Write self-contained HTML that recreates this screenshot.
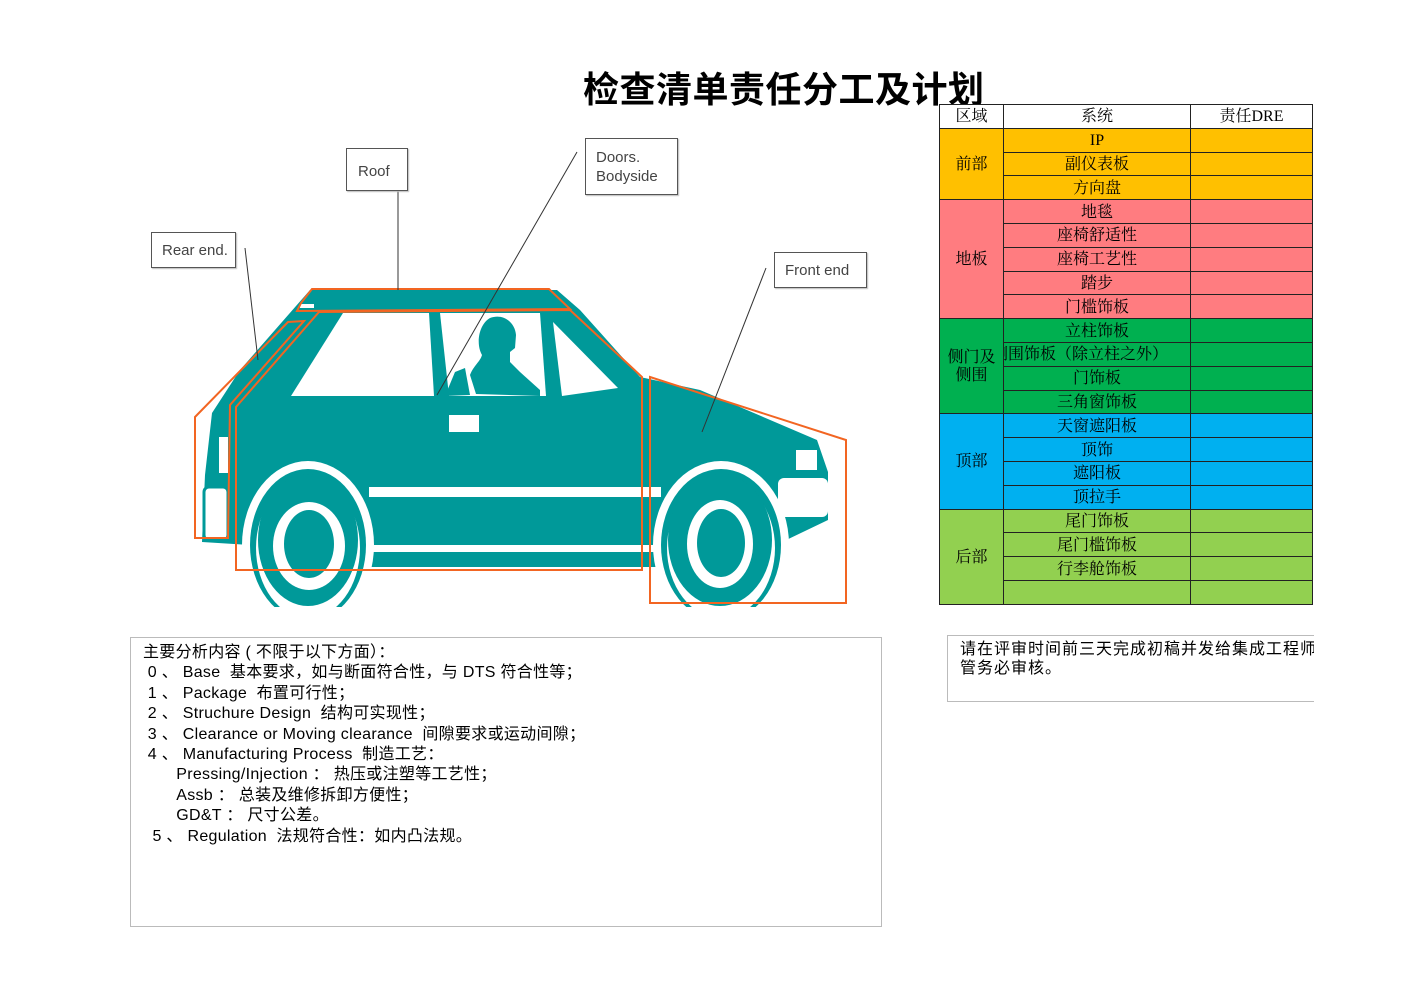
<!DOCTYPE html>
<html><head><meta charset="utf-8"><style>
body{margin:0;width:1403px;height:992px;background:#fff;position:relative;overflow:hidden;font-family:"Liberation Sans","Noto Sans CJK SC",sans-serif}
.a{position:absolute}
.title{left:583px;top:61px;font-size:36px;font-weight:bold;font-family:"Liberation Sans","Noto Sans CJK SC",sans-serif;color:#000;letter-spacing:0.5px;white-space:nowrap}
.tb{position:absolute;left:939px;top:104px;border-collapse:collapse;font-family:"Liberation Serif","Noto Serif CJK SC",serif;font-size:16px}
.tb td{border:1px solid #222;padding:2px 0 0 0;height:20.8px;text-align:center;white-space:nowrap;overflow:hidden;line-height:20px;box-sizing:content-box}
.o{background:#FFC000}.p{background:#FF7C80}.g{background:#00B050}.b{background:#00B0F0}.l{background:#92D050}
.box{border:1px solid #555;background:#fff;font-size:15px;color:#444;box-shadow:1px 1px 1px #bbb;line-height:19px}
.txt{font-size:16px;line-height:20.4px;color:#000;white-space:pre;letter-spacing:0.3px}
</style></head><body>
<div class="a title">检查清单责任分工及计划</div>

<table class="tb">
<colgroup><col style="width:64px"><col style="width:187px"><col style="width:122px"></colgroup>
<tr><td style="background:#fff">区域</td><td style="background:#fff">系统</td><td style="background:#fff">责任DRE</td></tr>
<tr><td class="o" rowspan="3">前部</td><td class="o">IP</td><td class="o"></td></tr>
<tr><td class="o">副仪表板</td><td class="o"></td></tr>
<tr><td class="o">方向盘</td><td class="o"></td></tr>
<tr><td class="p" rowspan="5">地板</td><td class="p">地毯</td><td class="p"></td></tr>
<tr><td class="p">座椅舒适性</td><td class="p"></td></tr>
<tr><td class="p">座椅工艺性</td><td class="p"></td></tr>
<tr><td class="p">踏步</td><td class="p"></td></tr>
<tr><td class="p">门槛饰板</td><td class="p"></td></tr>
<tr><td class="g" rowspan="4" style="line-height:18px">侧门及<br>侧围</td><td class="g">立柱饰板</td><td class="g"></td></tr>
<tr><td class="g" style="max-width:187px;text-align:left;text-indent:-12px">侧围饰板（除立柱之外）</td><td class="g"></td></tr>
<tr><td class="g">门饰板</td><td class="g"></td></tr>
<tr><td class="g">三角窗饰板</td><td class="g"></td></tr>
<tr><td class="b" rowspan="4">顶部</td><td class="b">天窗遮阳板</td><td class="b"></td></tr>
<tr><td class="b">顶饰</td><td class="b"></td></tr>
<tr><td class="b">遮阳板</td><td class="b"></td></tr>
<tr><td class="b">顶拉手</td><td class="b"></td></tr>
<tr><td class="l" rowspan="4">后部</td><td class="l">尾门饰板</td><td class="l"></td></tr>
<tr><td class="l">尾门槛饰板</td><td class="l"></td></tr>
<tr><td class="l">行李舱饰板</td><td class="l"></td></tr>
<tr><td class="l"></td><td class="l"></td></tr>
</table>

<svg class="a" style="left:0;top:0" width="930" height="630" viewBox="0 0 930 630">
<g fill="#009999">
<polygon points="202,542 205,475 212,413 240,370 310,290 557,290 580,310 640,377 700,390 817,440 828,472 828,520 780,543 660,567 370,567 250,545"/>
</g>
<ellipse cx="308" cy="545" rx="66" ry="84" fill="#fff"/>
<ellipse cx="308" cy="545" rx="58" ry="76" fill="#009999"/>
<ellipse cx="308" cy="548" rx="52" ry="70" fill="#fff"/>
<ellipse cx="721" cy="545" rx="68" ry="84" fill="#fff"/>
<ellipse cx="721" cy="545" rx="60" ry="76" fill="#009999"/>
<ellipse cx="721" cy="548" rx="54" ry="70" fill="#fff"/>
<rect x="230" y="607" width="600" height="30" fill="#fff"/>
<ellipse cx="308" cy="540" rx="50" ry="66" fill="#009999"/>
<ellipse cx="309" cy="546" rx="36" ry="44" fill="#fff"/>
<ellipse cx="309" cy="544" rx="25" ry="34" fill="#009999"/>
<ellipse cx="720" cy="540" rx="52" ry="66" fill="#009999"/>
<ellipse cx="720" cy="544" rx="33" ry="44" fill="#fff"/>
<ellipse cx="721" cy="543" rx="24" ry="34" fill="#009999"/>
<rect x="369" y="487" width="292" height="10" fill="#fff"/>
<rect x="369" y="545" width="292" height="7" fill="#fff"/>
<polygon points="291,396 343,313 429,313 434,396" fill="#fff"/>
<polygon points="440,313 540,313 546,396 449,396" fill="#fff"/>
<polygon points="553,322 618,388 562,396" fill="#fff"/>
<path d="M476,394 L470,375 C474,365 480,362 482,355 C476,345 478,325 490,318 C503,313 515,322 516,335 L515,348 L510,352 L510,362 L520,372 L540,390 L540,396 Z" fill="#009999"/>
<polygon points="455,372 465,368 470,395 445,396" fill="#009999"/>
<rect x="449" y="415" width="30" height="17" fill="#fff"/>
<rect x="796" y="450" width="21" height="20" fill="#fff"/>
<rect x="778" y="478" width="50" height="39" fill="#fff" rx="6"/>
<rect x="219" y="437" width="9" height="36" fill="#fff"/>
<rect x="204" y="487" width="24" height="53" fill="#fff" stroke="#009999" stroke-width="3" rx="5"/>
<rect x="300" y="304" width="14" height="4" fill="#fff"/>
<g fill="none" stroke="#F26522" stroke-width="2">
<polygon points="312,289 549,289 570,309 297,311 301,303"/>
<polygon points="195,417 288,322 304,321 230,405 228,538 195,538"/>
<polygon points="236,570 236,407 319,312 570,310 642,377 642,570"/>
<polygon points="650,377 846,440 846,603 650,603"/>
</g>
<g stroke="#333" stroke-width="1">
<line x1="398" y1="190" x2="398" y2="290"/>
<line x1="577" y1="152" x2="437" y2="395"/>
<line x1="245" y1="248" x2="258" y2="360"/>
<line x1="766" y1="268" x2="702" y2="432"/>
</g>
</svg>

<div class="a box" style="left:346px;top:148px;width:60px;height:41px;"><div style="padding:13px 0 0 11px">Roof</div></div>
<div class="a box" style="left:585px;top:138px;width:91px;height:55px;"><div style="padding:9px 0 0 10px">Doors.<br>Bodyside</div></div>
<div class="a box" style="left:151px;top:232px;width:83px;height:34px;"><div style="padding:8px 0 0 10px">Rear end.</div></div>
<div class="a box" style="left:774px;top:252px;width:91px;height:34px;"><div style="padding:8px 0 0 10px">Front end</div></div>

<div class="a" style="left:130px;top:637px;width:750px;height:288px;border:1px solid #bbb;"></div>
<div class="a txt" style="left:143px;top:643px;">主要分析内容 ( 不限于以下方面）：
 0 、 Base  基本要求，如与断面符合性，与 DTS 符合性等；
 1 、 Package  布置可行性；
 2 、 Struchure Design  结构可实现性；
 3 、 Clearance or Moving clearance  间隙要求或运动间隙；
 4 、 Manufacturing Process  制造工艺：
       Pressing/Injection ： 热压或注塑等工艺性；
       Assb ： 总装及维修拆卸方便性；
       GD&amp;T ： 尺寸公差。
  5 、 Regulation  法规符合性：如内凸法规。</div>

<div class="a" style="left:947px;top:635px;width:366px;height:65px;border:1px solid #bbb;border-right:none;overflow:hidden;">
<div class="txt" style="padding:4px 0 0 12px;line-height:19px;letter-spacing:1px">请在评审时间前三天完成初稿并发给集成工程师
管务必审核。</div></div>
</body></html>
